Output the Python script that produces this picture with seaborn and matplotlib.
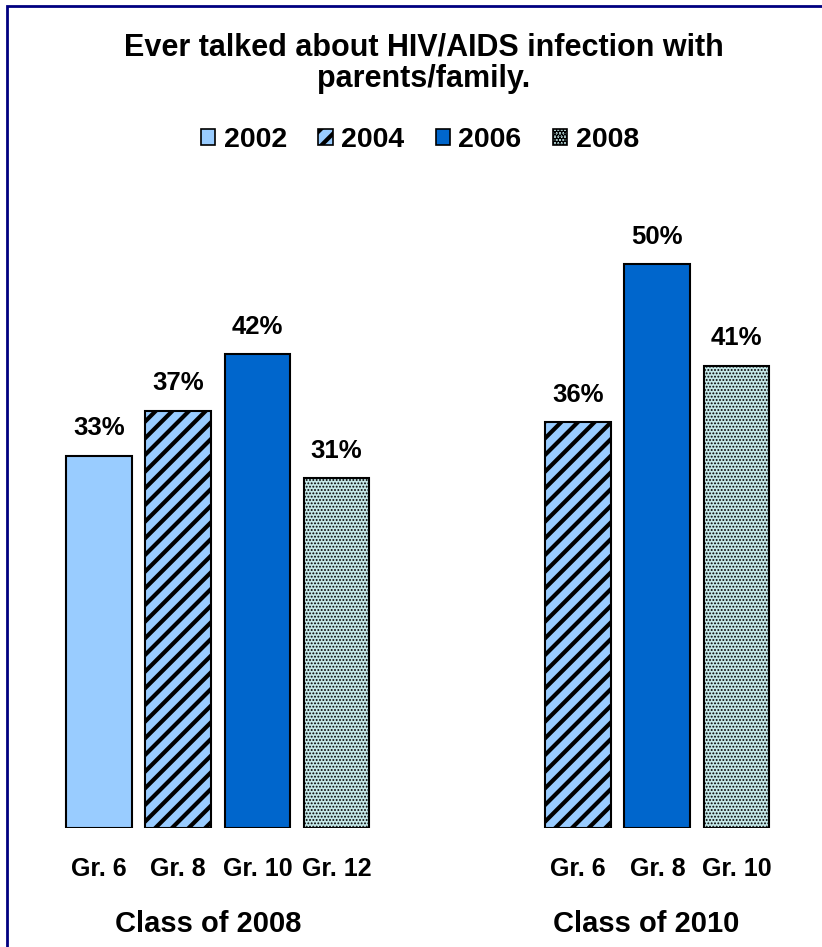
import matplotlib
matplotlib.use("Agg")
import matplotlib.pyplot as plt
import seaborn as sns
import pandas as pd
from matplotlib.patches import Rectangle, Patch

# data
grades = ["Gr. 6", "Gr. 8", "Gr. 10", "Gr. 12", "Gr. 6", "Gr. 8", "Gr. 10"]
years = ["2002", "2004", "2006", "2008", "2004", "2006", "2008"]
pcts = [33, 37, 42, 31, 36, 50, 41]
positions = [0, 1, 2, 3, 6.05, 7.05, 8.05]
groups = ["Class of 2008", "Class of 2010"]
group_x = [1.38, 6.91]

year_order = ["2002", "2004", "2006", "2008"]
face = {"2002": "#99CCFF", "2004": "#99CCFF", "2006": "#0066CC", "2008": "#C4E8E8"}
hatch = {"2002": "", "2004": "//", "2006": "", "2008": "....."}

df = pd.DataFrame({"pos": positions, "pct": pcts, "year": years, "grade": grades})

sns.set_style("white")
plt.rcParams["font.family"] = ["Liberation Sans", "DejaVu Sans"]
plt.rcParams["text.color"] = "black"
plt.rcParams["xtick.color"] = "black"
plt.rcParams["hatch.linewidth"] = 3.0
plt.rcParams["hatch.color"] = "black"

fig = plt.figure(figsize=(8.22, 9.47), dpi=100)
ax = fig.add_axes([20 / 822, 1 - 828 / 947, 790 / 822, 628 / 947])

sns.barplot(data=df, x="pos", y="pct", hue="year", hue_order=year_order,
            palette=face, saturation=1, native_scale=True, dodge=False, width=0.83,
            edgecolor="black", linewidth=1.5, legend=False, ax=ax)

# patterns and value labels per bar
for bar in ax.patches:
    if bar.get_height() <= 0:
        continue
    xc = bar.get_x() + bar.get_width() / 2
    i = min(range(len(positions)), key=lambda k: abs(positions[k] - xc))
    y = years[i]
    bar.set_hatch(hatch[y])
    if y == "2008" and hasattr(bar, "set_hatch_linewidth"):
        bar.set_hatch_linewidth(0.9)
    ax.text(xc, pcts[i] + 1.8, f"{pcts[i]}%", ha="center", va="baseline",
            fontsize=18.5, fontweight="bold")

ax.set_xlim((20 - 99) / 79.2, (810 - 99) / 79.2)
ax.set_ylim(0, 628 / 11.28)
ax.set_xticks(positions)
ax.set_xticklabels(grades, fontsize=18, fontweight="bold")
ax.tick_params(axis="x", length=0, pad=21)
ax.set_yticks([])
ax.set_xlabel("")
ax.set_ylabel("")
for s in ax.spines.values():
    s.set_visible(False)

# group labels
for g, xc in zip(groups, group_x):
    ax.text(xc, -8.5, g, ha="center", va="center", fontsize=21,
            fontweight="bold", clip_on=False)

fig.text(424 / 822, 1 - 55 / 947, "Ever talked about HIV/AIDS infection with",
         ha="center", va="baseline", fontsize=22, fontweight="bold")
fig.text(424 / 822, 1 - 87 / 947, "parents/family.",
         ha="center", va="baseline", fontsize=22, fontweight="bold")

handles = [Patch(facecolor=face[y], edgecolor="black", hatch=hatch[y], linewidth=1.2)
           for y in year_order]
leg = fig.legend(handles, year_order, loc="center", bbox_to_anchor=(420 / 822, 1 - 140 / 947),
                 ncol=4, frameon=False, handlelength=0.5, handleheight=0.5,
                 handletextpad=0.3, columnspacing=1.1,
                 prop={"weight": "bold", "size": 20.5})

fig.patches.append(Rectangle((7 / 822, -0.05), 1.1, 1 - 6 / 947 + 0.05,
                             transform=fig.transFigure, fill=False,
                             edgecolor="#000080", linewidth=2))

fig.savefig("out.png", dpi=100)
